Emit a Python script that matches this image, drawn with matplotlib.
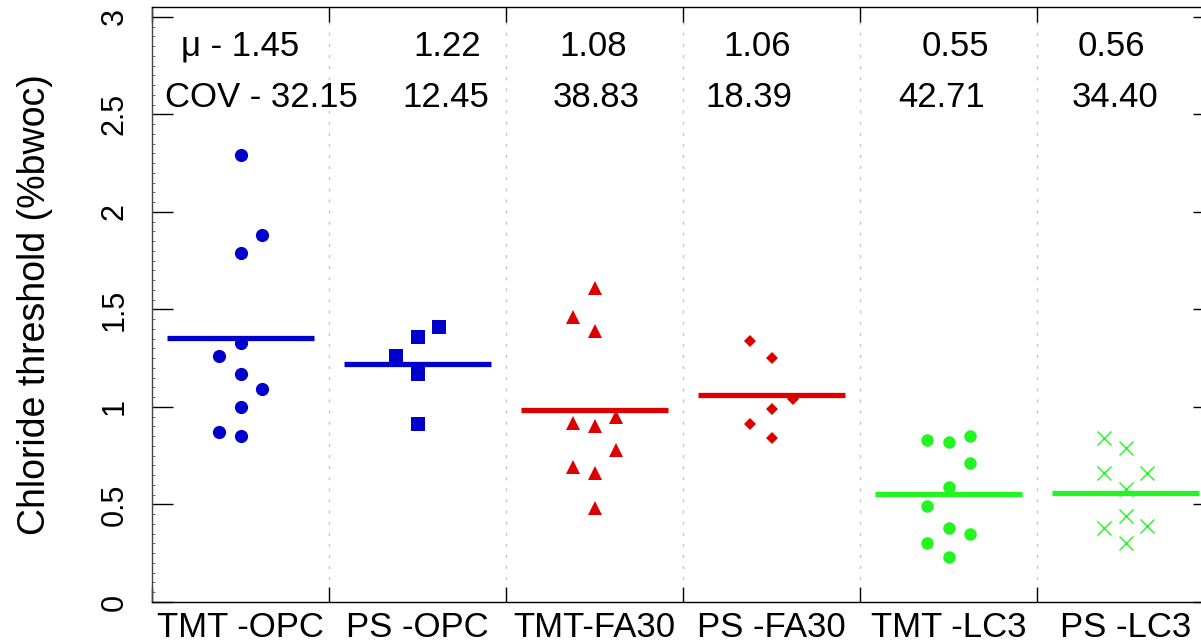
import matplotlib

matplotlib.use("Agg")

import matplotlib.pyplot as plt
import numpy as np
from matplotlib.ticker import FixedLocator, MultipleLocator, NullFormatter

plt.rcParams["font.family"] = ["Liberation Sans", "DejaVu Sans"]

groups = ["TMT -OPC", "PS -OPC", "TMT-FA30", "PS -FA30", "TMT -LC3", "PS -LC3"]

# chloride threshold per specimen (%bwoc); slot = side-by-side column inside a group
tmt_opc = [2.29, 1.88, 1.79, 1.33, 1.26, 1.17, 1.09, 1.00, 0.87, 0.85]
tmt_opc_slot = [0, 1, 0, 0, -1, 0, 1, 0, -1, 0]
ps_opc = [1.41, 1.36, 1.26, 1.17, 0.91]
ps_opc_slot = [1, 0, -1, 0, 0]
tmt_fa30 = [1.61, 1.46, 1.39, 0.95, 0.92, 0.90, 0.78, 0.69, 0.66, 0.48]
tmt_fa30_slot = [0, -1, 0, 1, -1, 0, 1, -1, 0, 0]
ps_fa30 = [1.34, 1.25, 1.04, 0.99, 0.91, 0.84]
ps_fa30_slot = [-1, 0, 1, 0, -1, 0]
tmt_lc3 = [0.85, 0.83, 0.82, 0.71, 0.59, 0.49, 0.38, 0.35, 0.30, 0.23]
tmt_lc3_slot = [1, -1, 0, 1, 0, -1, 0, 1, -1, 0]
ps_lc3 = [0.84, 0.79, 0.66, 0.66, 0.58, 0.44, 0.38, 0.39, 0.30]
ps_lc3_slot = [-1, 0, -1, 1, 0, 0, -1, 1, 0]

mu_labels = ["\u03bc - 1.45", "1.22", "1.08", "1.06", "0.55", "0.56"]
cov_labels = ["COV - 32.15", "12.45", "38.83", "18.39", "42.71", "34.40"]

series = [
    (tmt_opc, tmt_opc_slot, "#0000CC", "o", 9.5),
    (ps_opc, ps_opc_slot, "#0000CC", "s", 10),
    (tmt_fa30, tmt_fa30_slot, "#DD0000", "^", 9.5),
    (ps_fa30, ps_fa30_slot, "#DD0000", "D", 6),
    (tmt_lc3, tmt_lc3_slot, "#22F522", "o", 9),
    (ps_lc3, ps_lc3_slot, "#22F522", "x", 10),
]

SLOT_STEP = 0.12
HALF_LINE = 0.415

fig = plt.figure(figsize=(12.01, 6.42), dpi=100)
ax = fig.add_axes([152 / 1201, 40 / 642, 1062 / 1201, 595 / 642])

pos = np.arange(1, len(groups) + 1)

for i, (vals, slots, color, marker, ms) in enumerate(series):
    x = pos[i] + SLOT_STEP * np.asarray(slots)
    ax.plot(x, vals, linestyle="none", marker=marker, color=color,
            markersize=ms, markeredgewidth=1 if marker == "x" else 0,
            markeredgecolor=color, zorder=3)
    m = np.mean(vals)
    ax.plot([pos[i] - HALF_LINE, pos[i] + HALF_LINE], [m, m],
            color=color, linewidth=3.8, solid_capstyle="butt", zorder=4)

# group separators
for b in pos[:-1] + 0.5:
    ax.axvline(b, color="#c4c4c4", linewidth=1.0,
               linestyle=(0, (2.2, 5.8)), zorder=1)

# mean / COV annotations
mu_x = [1.0, 2.17, 2.99, 3.92, 5.04, 5.92]
cov_x = [1.12, 2.16, 3.01, 3.87, 4.96, 5.94]
for x, s in zip(mu_x, mu_labels):
    ax.text(x, 2.85, s, ha="center", va="center", fontsize=25)
for x, s in zip(cov_x, cov_labels):
    ax.text(x, 2.585, s, ha="center", va="center", fontsize=25)

ax.set_xlim(0.5, 6.5)
ax.set_ylim(0, 3.05)

ax.xaxis.set_major_locator(FixedLocator(np.arange(0.5, 7, 1.0)))
ax.xaxis.set_major_formatter(NullFormatter())
ax.xaxis.set_minor_locator(FixedLocator(pos))
ax.set_xticklabels(groups, minor=True)
ax.tick_params(axis="x", which="major", direction="in", length=11,
               width=1, top=True, bottom=True)
ax.tick_params(axis="x", which="minor", length=0, labelsize=25, pad=6.5)

ax.yaxis.set_major_locator(MultipleLocator(0.5))
ax.yaxis.set_minor_locator(MultipleLocator(0.05))
ax.set_yticks([0, 0.5, 1, 1.5, 2, 2.5, 3])
ax.set_yticklabels(["0", "0.5", "1", "1.5", "2", "2.5", "3"])
ax.tick_params(axis="y", which="major", direction="in", length=15,
               width=1, left=True, right=True, labelsize=22, pad=16,
               labelrotation=90)
ax.tick_params(axis="y", which="minor", direction="in", length=2.5,
               width=0.6, left=True, right=False, color="#555555")
for lbl in ax.get_yticklabels():
    lbl.set_va("center")

ax.set_ylabel("Chloride threshold (%bwoc)", fontsize=27, labelpad=34)

for sp in ax.spines.values():
    sp.set_linewidth(1.0)
ax.spines["left"].set_color("#444444")

fig.savefig("out.png", dpi=100)
plt.close(fig)
